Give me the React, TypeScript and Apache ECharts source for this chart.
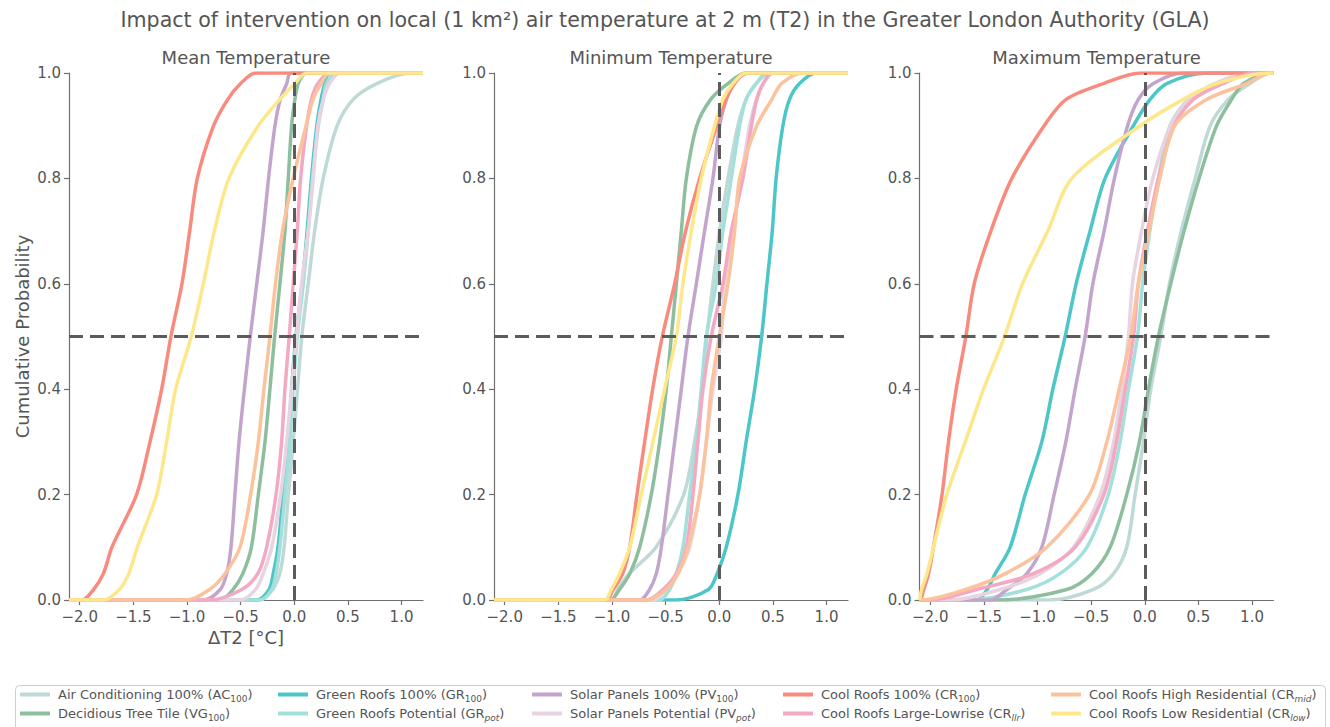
import React, { useEffect, useRef } from 'react';
import * as echarts from 'echarts';

// ---------- data: x-quantiles (ΔT2 in °C) at the cumulative probability levels below ----------
const PROB = [0, 0.02, 0.05, 0.1, 0.2, 0.3, 0.4, 0.5, 0.6, 0.7, 0.8, 0.9, 0.95, 0.98, 1];

const X_MIN = -2.1;
const X_MAX = 1.2;
const X_TICKS = [-2, -1.5, -1, -0.5, 0, 0.5, 1];
const Y_TICKS_INTERVAL = 0.2;
const REF_PROB = 0.5; // horizontal reference (median)
const REF_DT = 0; // vertical reference (no change)

// Mean temperature
const meanAC100 = [-0.32, -0.2, -0.135, -0.095, -0.055, -0.01, 0.03, 0.07, 0.13, 0.19, 0.27, 0.4, 0.55, 0.77, 1.08];
const meanVG100 = [-0.69, -0.57, -0.48, -0.4, -0.335, -0.273, -0.227, -0.183, -0.134, -0.087, -0.056, -0.025, 0.006, 0.037, 0.115];
const meanGR100 = [-0.35, -0.235, -0.196, -0.152, -0.104, -0.056, -0.025, 0.015, 0.075, 0.12, 0.16, 0.21, 0.25, 0.285, 0.33];
const meanGRpot = [-0.32, -0.21, -0.17, -0.134, -0.087, -0.04, -0.01, 0.028, 0.084, 0.13, 0.17, 0.224, 0.27, 0.3, 0.39];
const meanPV100 = [-0.85, -0.69, -0.63, -0.59, -0.553, -0.515, -0.465, -0.41, -0.35, -0.29, -0.24, -0.18, -0.13, -0.07, -0.03];
const meanPVpot = [-0.5, -0.36, -0.29, -0.21, -0.127, -0.071, -0.025, 0.02, 0.068, 0.13, 0.177, 0.22, 0.27, 0.33, 0.425];
const meanCR100 = [-1.98, -1.87, -1.78, -1.7, -1.47, -1.345, -1.236, -1.15, -1.047, -0.975, -0.904, -0.752, -0.62, -0.5, -0.36];
const meanCRllr = [-0.79, -0.49, -0.34, -0.258, -0.17, -0.118, -0.087, -0.047, -0.01, 0.028, 0.059, 0.115, 0.16, 0.22, 0.33];
const meanCRmid = [-1.0, -0.79, -0.646, -0.506, -0.407, -0.335, -0.283, -0.227, -0.175, -0.11, -0.01, 0.11, 0.175, 0.25, 0.33];
const meanCRlow = [-1.78, -1.63, -1.543, -1.463, -1.283, -1.19, -1.106, -0.96, -0.848, -0.745, -0.609, -0.335, -0.134, 0.006, 0.115];

// Minimum temperature
const minAC100 = [-1.0, -0.95, -0.84, -0.59, -0.332, -0.23, -0.158, -0.115, -0.059, 0.003, 0.081, 0.174, 0.25, 0.345, 0.44];
const minVG100 = [-1.02, -0.93, -0.835, -0.742, -0.634, -0.556, -0.494, -0.447, -0.4, -0.354, -0.307, -0.21, -0.08, 0.08, 0.25];
const minGR100 = [-0.4, -0.1, -0.02, 0.065, 0.174, 0.25, 0.33, 0.395, 0.444, 0.494, 0.53, 0.593, 0.655, 0.748, 0.9];
const minGRpot = [-0.556, -0.463, -0.4, -0.339, -0.276, -0.214, -0.168, -0.121, -0.028, 0.034, 0.112, 0.19, 0.25, 0.345, 0.47];
const minPV100 = [-0.742, -0.65, -0.587, -0.54, -0.478, -0.416, -0.354, -0.292, -0.214, -0.137, -0.059, 0.003, 0.065, 0.127, 0.28];
const minPVpot = [-0.618, -0.494, -0.385, -0.276, -0.183, -0.121, -0.059, 0.019, 0.05, 0.127, 0.205, 0.283, 0.345, 0.41, 0.5];
const minCR100 = [-1.053, -0.99, -0.9, -0.835, -0.767, -0.696, -0.621, -0.531, -0.416, -0.314, -0.183, -0.022, 0.065, 0.143, 0.25];
const minCRllr = [-0.68, -0.525, -0.4, -0.307, -0.245, -0.199, -0.152, -0.075, 0.034, 0.112, 0.22, 0.3, 0.35, 0.41, 0.5];
const minCRmid = [-0.68, -0.494, -0.385, -0.292, -0.183, -0.121, -0.075, 0.0, 0.081, 0.143, 0.19, 0.35, 0.49, 0.58, 0.78];
const minCRlow = [-1.07, -1.006, -0.93, -0.835, -0.727, -0.618, -0.51, -0.4, -0.339, -0.26, -0.168, -0.043, 0.034, 0.127, 0.25];

// Maximum temperature
const maxAC100 = [-0.88, -0.478, -0.29, -0.168, -0.09, -0.012, 0.056, 0.149, 0.23, 0.34, 0.47, 0.61, 0.78, 0.98, 1.17];
const maxVG100 = [-1.35, -0.727, -0.494, -0.323, -0.168, -0.05, 0.034, 0.127, 0.242, 0.366, 0.506, 0.67, 0.81, 0.92, 1.17];
const maxGR100 = [-1.565, -1.47, -1.394, -1.255, -1.115, -0.96, -0.857, -0.742, -0.64, -0.51, -0.37, -0.106, 0.05, 0.205, 0.578];
const maxGRpot = [-1.66, -1.1, -0.79, -0.54, -0.34, -0.23, -0.152, -0.068, -0.02, 0.047, 0.127, 0.236, 0.41, 0.67, 1.07];
const maxPV100 = [-1.44, -1.286, -1.1, -0.96, -0.845, -0.736, -0.649, -0.556, -0.484, -0.379, -0.283, -0.16, -0.06, 0.08, 0.36];
const maxPVpot = [-1.81, -1.35, -0.975, -0.665, -0.416, -0.29, -0.214, -0.152, -0.115, -0.03, 0.075, 0.24, 0.42, 0.65, 0.98];
const maxCR100 = [-2.093, -2.06, -2.015, -1.97, -1.89, -1.83, -1.758, -1.668, -1.59, -1.435, -1.239, -0.938, -0.733, -0.385, -0.04];
const maxCRllr = [-2.0, -1.565, -1.04, -0.65, -0.382, -0.264, -0.183, -0.105, -0.06, 0.025, 0.127, 0.273, 0.453, 0.73, 1.01];
const maxCRmid = [-2.09, -1.67, -1.3, -0.913, -0.516, -0.354, -0.239, -0.13, -0.06, 0.04, 0.14, 0.28, 0.58, 0.95, 1.17];
const maxCRlow = [-2.095, -2.08, -2.03, -1.97, -1.845, -1.674, -1.503, -1.307, -1.14, -0.904, -0.68, -0.043, 0.36, 0.67, 1.17];

const PANEL_TITLES = ['Mean Temperature', 'Minimum Temperature', 'Maximum Temperature'];
const MAIN_TITLE = 'Impact of intervention on local (1 km²) air temperature at 2 m (T2) in the Greater London Authority (GLA)';
const X_NAME = 'ΔT2 [°C]';
const Y_NAME = 'Cumulative Probability';

// series meta (legend order, column-major 2 rows × 5 columns)
const SERIES_META = [
  { key: 'AC100', base: 'Air Conditioning 100% (AC', sub: '100', italic: false, color: '#bfd9d6' },
  { key: 'VG100', base: 'Decidious Tree Tile (VG', sub: '100', italic: false, color: '#8dbe9e' },
  { key: 'GR100', base: 'Green Roofs 100% (GR', sub: '100', italic: false, color: '#4cc6c8' },
  { key: 'GRpot', base: 'Green Roofs Potential (GR', sub: 'pot', italic: true, color: '#a4e0db' },
  { key: 'PV100', base: 'Solar Panels 100% (PV', sub: '100', italic: false, color: '#c3a4cc' },
  { key: 'PVpot', base: 'Solar Panels Potential (PV', sub: 'pot', italic: true, color: '#e7d3e1' },
  { key: 'CR100', base: 'Cool Roofs 100% (CR', sub: '100', italic: false, color: '#f98b7e' },
  { key: 'CRllr', base: 'Cool Roofs Large-Lowrise (CR', sub: 'llr', italic: true, color: '#f2a9c1' },
  { key: 'CRmid', base: 'Cool Roofs High Residential (CR', sub: 'mid', italic: true, color: '#fcc29c' },
  { key: 'CRlow', base: 'Cool Roofs Low Residential (CR', sub: 'low', italic: true, color: '#fce88a' },
];

const PANEL_DATA: Record<string, number[]>[] = [
  { AC100: meanAC100, VG100: meanVG100, GR100: meanGR100, GRpot: meanGRpot, PV100: meanPV100, PVpot: meanPVpot, CR100: meanCR100, CRllr: meanCRllr, CRmid: meanCRmid, CRlow: meanCRlow },
  { AC100: minAC100, VG100: minVG100, GR100: minGR100, GRpot: minGRpot, PV100: minPV100, PVpot: minPVpot, CR100: minCR100, CRllr: minCRllr, CRmid: minCRmid, CRlow: minCRlow },
  { AC100: maxAC100, VG100: maxVG100, GR100: maxGR100, GRpot: maxGRpot, PV100: maxPV100, PVpot: maxPVpot, CR100: maxCR100, CRllr: maxCRllr, CRmid: maxCRmid, CRlow: maxCRlow },
];

// ---------- styles / layout ----------
const FONT = "'DejaVu Sans', 'Noto Sans', sans-serif";
const TEXT = '#555555';
const AXIS = '#707070';
const REF = '#5c5c5c';
const GRID_LEFTS = [69, 494, 919.5];
const GRID_TOP = 73;
const GRID_W = 354;
const GRID_H = 527;
const LEGEND_COL_X = [20, 278, 532, 783, 1051];
const LEGEND_ROW_Y = [688, 707];

const fullName = (m: typeof SERIES_META[number]) => `${m.base}${m.sub})`;

const fmtX = (v: number) => (v < 0 ? '\u2212' : '') + Math.abs(v).toFixed(1);

function buildOption() {
  const grid = GRID_LEFTS.map((l) => ({ left: l, top: GRID_TOP, width: GRID_W, height: GRID_H, containLabel: false }));

  const xAxis = GRID_LEFTS.map((_, i) => ({
    type: 'value',
    gridIndex: i,
    min: X_MIN,
    max: X_MAX,
    axisLine: { show: true, onZero: false, lineStyle: { color: AXIS, width: 1.2 } },
    axisTick: { show: true, length: 5, customValues: X_TICKS, lineStyle: { color: AXIS, width: 1.2 } },
    axisLabel: { customValues: X_TICKS, formatter: fmtX, color: TEXT, fontSize: 15, fontFamily: FONT, margin: 9 },
    splitLine: { show: false },
    name: i === 0 ? X_NAME : '',
    nameLocation: 'middle',
    nameGap: 28,
    nameTextStyle: { color: TEXT, fontSize: 18, fontFamily: FONT },
  }));

  const yAxis = GRID_LEFTS.map((_, i) => ({
    type: 'value',
    gridIndex: i,
    min: 0,
    max: 1,
    interval: Y_TICKS_INTERVAL,
    axisLine: { show: true, onZero: false, lineStyle: { color: AXIS, width: 1.2 } },
    axisTick: { show: true, length: 5, lineStyle: { color: AXIS, width: 1.2 } },
    axisLabel: { formatter: (v: number) => v.toFixed(1), color: TEXT, fontSize: 15, fontFamily: FONT, margin: 8 },
    splitLine: { show: false },
    name: i === 0 ? Y_NAME : '',
    nameLocation: 'middle',
    nameGap: 38,
    nameTextStyle: { color: TEXT, fontSize: 18, fontFamily: FONT },
  }));

  const series: any[] = [];
  PANEL_DATA.forEach((panel, gi) => {
    SERIES_META.forEach((m) => {
      const q = panel[m.key];
      const data = [[X_MIN, 0], ...q.map((x, k) => [x, PROB[k]]), [X_MAX, 1]];
      series.push({
        type: 'line',
        name: fullName(m),
        xAxisIndex: gi,
        yAxisIndex: gi,
        data,
        symbol: 'none',
        showSymbol: false,
        smooth: 0.3,
        clip: true,
        lineStyle: { color: m.color, width: 3.5 },
        itemStyle: { color: m.color },
        z: 2,
        silent: true,
      });
    });
  });

  // dashed reference lines, in a higher layer so they sit on top of every curve
  PANEL_DATA.forEach((_, gi) => {
    series.push({
      type: 'line',
      name: `ref-${gi}`,
      xAxisIndex: gi,
      yAxisIndex: gi,
      data: [],
      silent: true,
      zlevel: 1,
      z: 10,
      markLine: {
        silent: true,
        symbol: 'none',
        animation: false,
        label: { show: false },
        lineStyle: { color: REF, width: 3, type: [14, 7], opacity: 1 },
        data: [{ yAxis: REF_PROB }, { xAxis: REF_DT }],
      },
    });
  });

  const rich = {
    n: { fontSize: 13, color: TEXT, fontFamily: FONT, lineHeight: 18 },
    s: { fontSize: 9, color: TEXT, fontFamily: FONT, lineHeight: 10, verticalAlign: 'bottom' },
    si: { fontSize: 9, color: TEXT, fontFamily: FONT, lineHeight: 10, verticalAlign: 'bottom', fontStyle: 'italic' },
  };

  const legend = SERIES_META.map((m, idx) => ({
    data: [fullName(m)],
    left: LEGEND_COL_X[Math.floor(idx / 2)],
    top: LEGEND_ROW_Y[idx % 2],
    padding: 0,
    icon: 'rect',
    itemWidth: 30,
    itemHeight: 4,
    selectedMode: false,
    formatter: () => `{n|${m.base}}{${m.italic ? 'si' : 's'}|${m.sub}}{n|)}`,
    textStyle: { color: TEXT, fontSize: 13, fontFamily: FONT, padding: [0, 0, 0, 3], rich },
  }));

  const title = [
    {
      text: MAIN_TITLE,
      left: 'center',
      top: 9,
      padding: 0,
      textStyle: { color: TEXT, fontSize: 20.6, fontWeight: 'normal', fontFamily: FONT },
    },
    ...PANEL_TITLES.map((t, i) => ({
      text: t,
      left: GRID_LEFTS[i] + GRID_W / 2,
      textAlign: 'center',
      top: 48,
      padding: 0,
      textStyle: { color: TEXT, fontSize: 18, fontWeight: 'normal', fontFamily: FONT },
    })),
  ];

  return {
    animation: false,
    backgroundColor: '#ffffff',
    textStyle: { fontFamily: FONT },
    title,
    grid,
    xAxis,
    yAxis,
    legend,
    graphic: [
      {
        type: 'rect',
        z: -1,
        silent: true,
        shape: { x: 15.5, y: 685.5, width: 1310, height: 60, r: 4 },
        style: { fill: '#ffffff', stroke: '#cfcfcf', lineWidth: 1 },
      },
    ],
    series,
  };
}

export default function App() {
  const ref = useRef<HTMLDivElement>(null);
  useEffect(() => {
    if (!ref.current) return;
    const chart = echarts.init(ref.current, undefined, { renderer: 'svg' });
    chart.setOption(buildOption() as any);
    return () => chart.dispose();
  }, []);
  return (
    <div
      ref={ref}
      style={{ position: 'fixed', left: 0, top: 0, width: 1330, height: 727, background: '#ffffff' }}
    />
  );
}
